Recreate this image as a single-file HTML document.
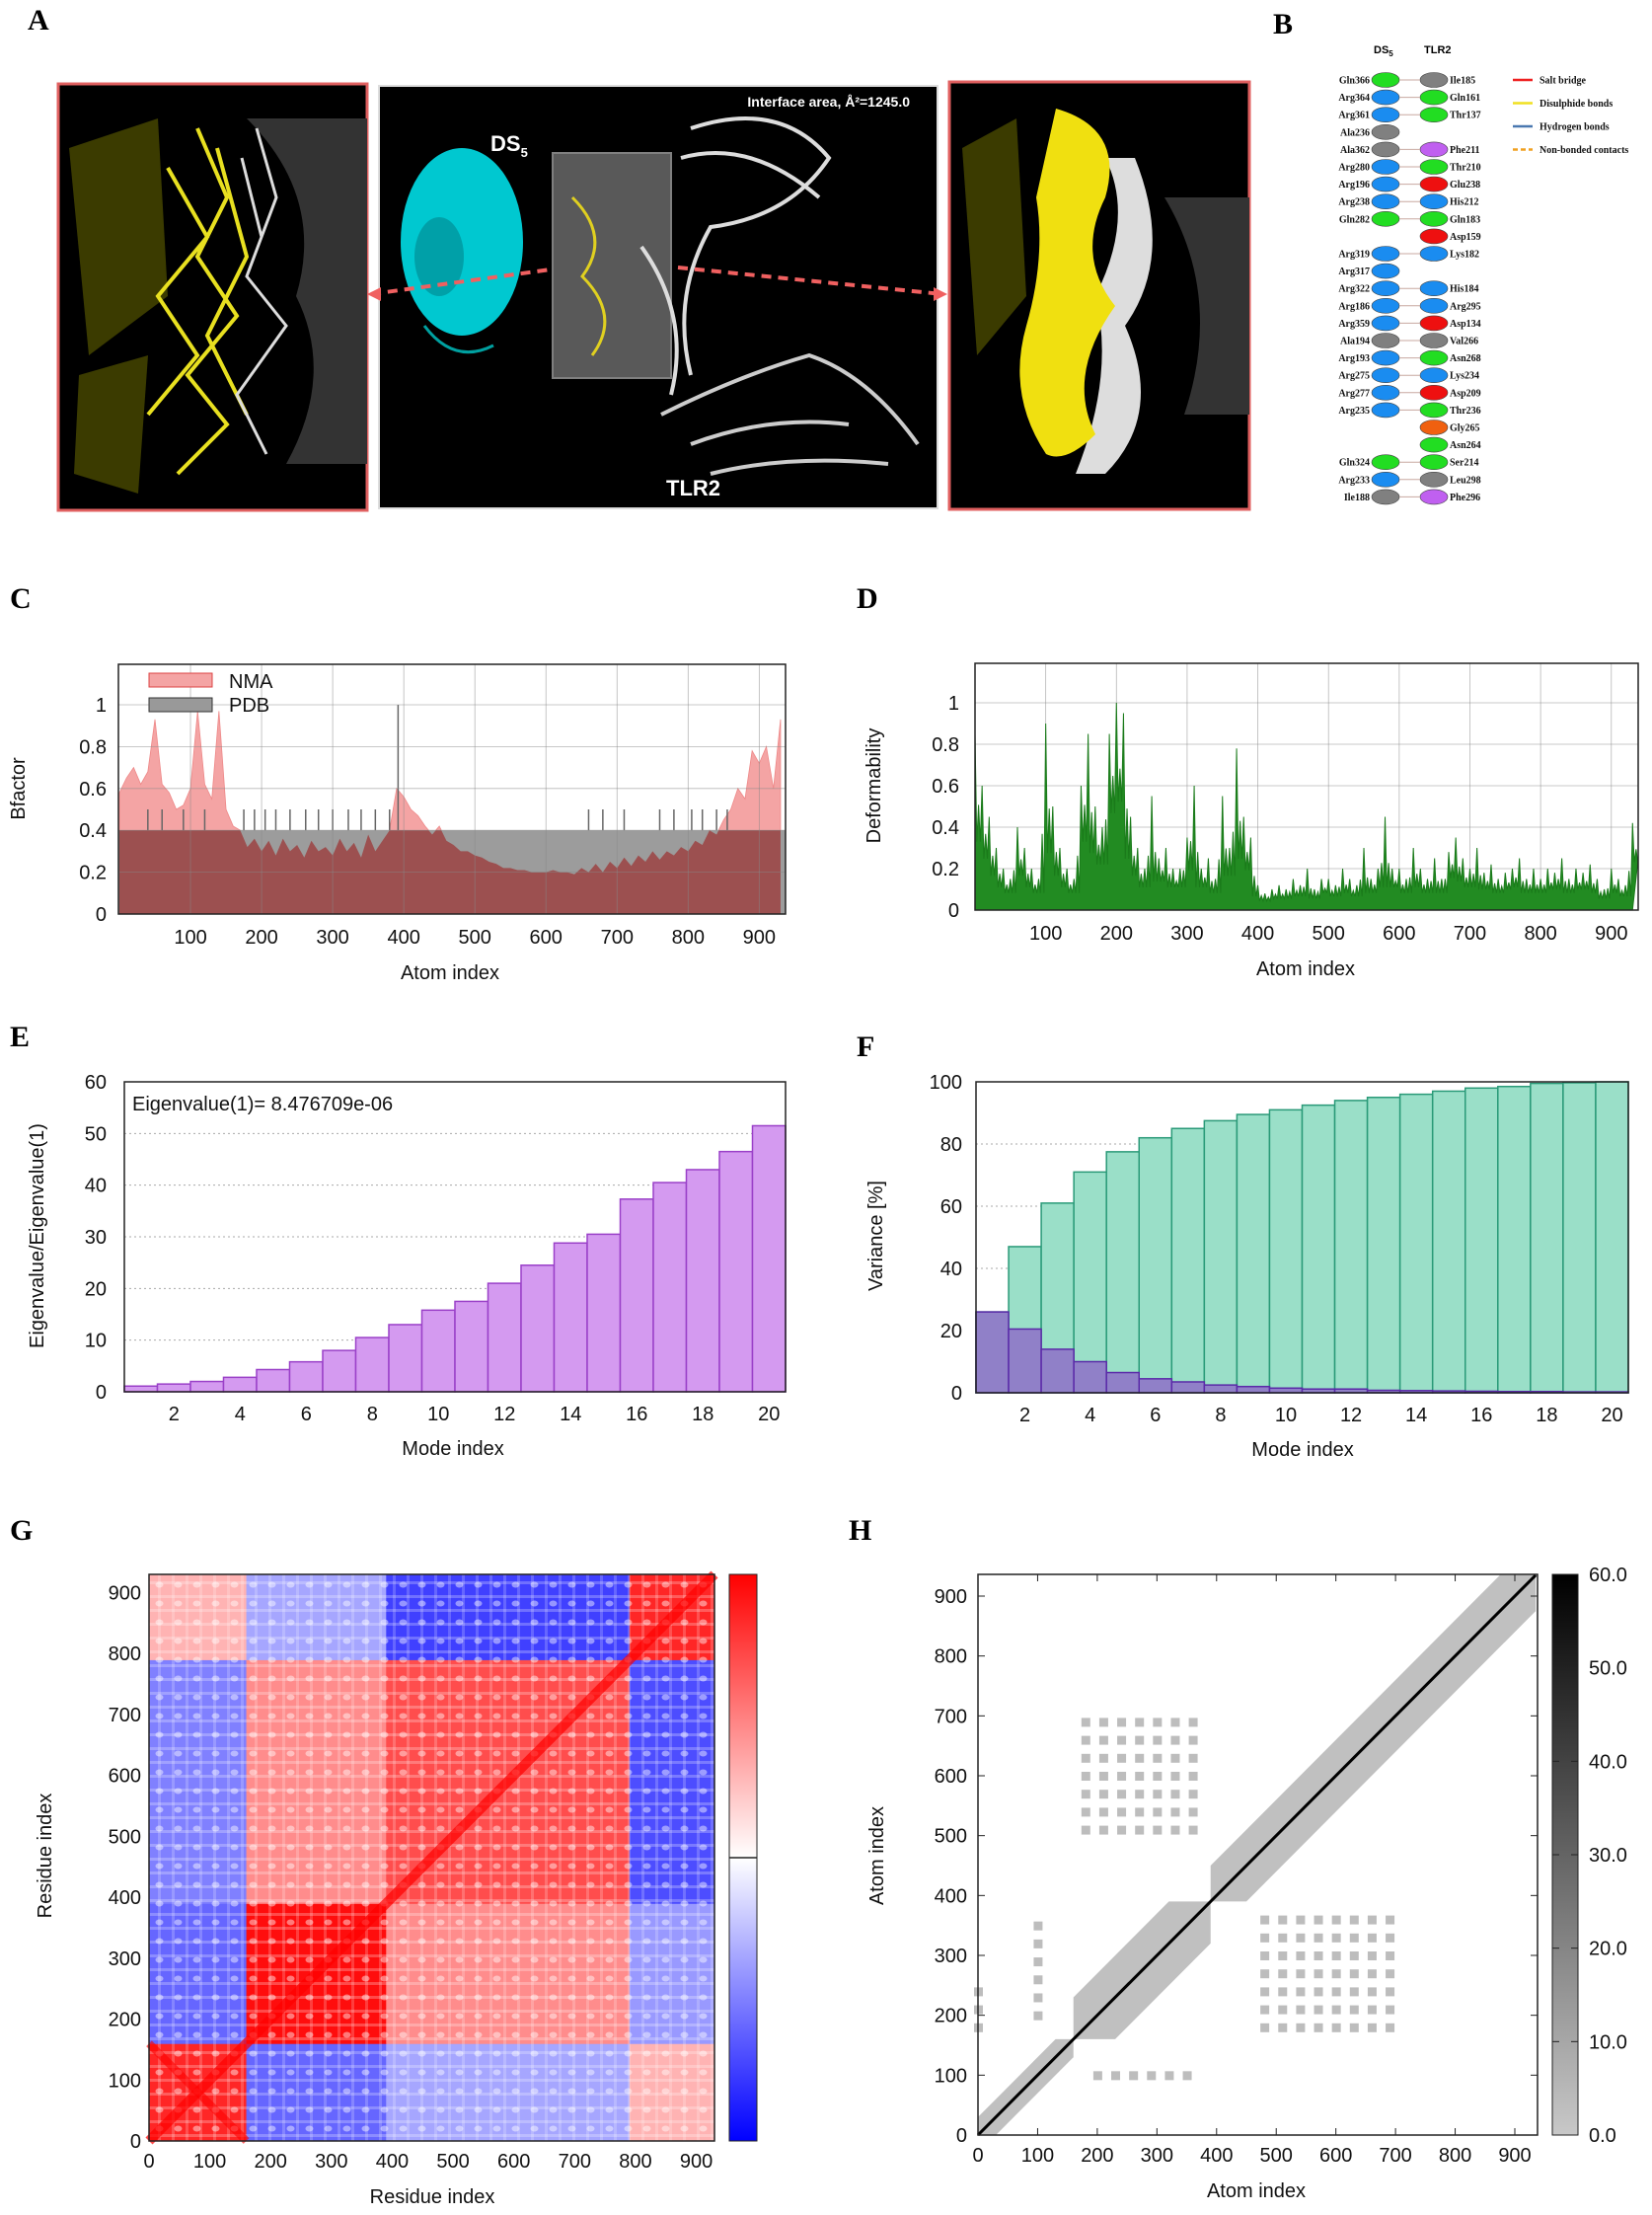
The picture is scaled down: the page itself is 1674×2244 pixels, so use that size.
<!DOCTYPE html>
<html><head><meta charset="utf-8"><style>
html,body{margin:0;padding:0;background:#fff}
svg{display:block}
text{font-family:"Liberation Sans","DejaVu Sans",sans-serif}
.lbl{font-family:"Liberation Serif",serif;font-weight:bold;font-size:30px}
.tk{font-size:20px;fill:#111}
.bl{font-family:"Liberation Serif",serif;font-weight:bold;font-size:10px;fill:#111}
</style></head><body>
<svg id="fig" width="1674" height="2244" viewBox="0 0 1674 2244" xmlns="http://www.w3.org/2000/svg">
<defs>
<clipPath id="clipC"><rect x="120" y="673" width="676" height="253"/></clipPath>
<clipPath id="clipCl"><rect x="120" y="841" width="676" height="85"/></clipPath>
<clipPath id="clipD"><rect x="988" y="672" width="672" height="250"/></clipPath>
<pattern id="dots" width="19" height="19" patternUnits="userSpaceOnUse"><ellipse cx="9.5" cy="9.5" rx="4" ry="3" fill="#fff" opacity="0.45"/></pattern>
<pattern id="stripes" width="14" height="14" patternUnits="userSpaceOnUse"><rect x="0" y="6" width="14" height="3" fill="#fff" opacity="0.25"/><rect x="6" y="0" width="3" height="14" fill="#fff" opacity="0.2"/></pattern>
</defs>

<!-- Panel A -->
<g>
<text class="lbl" x="28" y="30">A</text>
<g>
<rect x="59" y="85" width="313" height="432" fill="#000" stroke="#e06060" stroke-width="3"/>
<path d="M70 150 L160 120 L170 300 L90 360Z M80 380 L150 360 L140 500 L75 480Z" fill="#4a4a00" opacity="0.8"/>
<path d="M250 120 Q330 200 300 300 Q340 380 290 470 L372 470 L372 120Z" fill="#333"/>
<path d="M200 130 L230 200 L200 260 L240 320 L190 380 L230 430 L180 480 M170 170 L210 240 L160 300 L200 360 L150 420 M220 150 L250 260 L210 340 L250 420" stroke="#e8e020" stroke-width="4" fill="none"/>
<path d="M260 130 L280 200 L250 280 L290 330 L240 400 L270 460 M245 160 L265 240" stroke="#ddd" stroke-width="3" fill="none"/>
</g>
<g>
<rect x="384" y="87" width="566" height="428" fill="#000" stroke="#ddd" stroke-width="2"/>
<ellipse cx="468" cy="245" rx="62" ry="95" fill="#00c8d0"/>
<ellipse cx="445" cy="260" rx="25" ry="40" fill="#00a0a8"/>
<path d="M430 330 Q460 370 500 350" stroke="#00a0a0" stroke-width="3" fill="none"/>
<rect x="560" y="155" width="120" height="228" fill="#777" opacity="0.75" stroke="#aaa" stroke-width="2"/>
<path d="M700 130 Q790 100 840 160 Q800 220 720 230 Q680 300 700 380 M690 160 Q760 140 830 200 M650 250 Q700 320 680 400" stroke="#ddd" stroke-width="4" fill="none"/>
<path d="M670 420 Q750 380 820 360 Q880 380 930 450 M700 450 Q780 420 860 430 M720 480 Q800 460 900 470" stroke="#ccc" stroke-width="4" fill="none"/>
<path d="M580 200 Q620 240 590 280 Q630 320 600 360" stroke="#e0d020" stroke-width="3" fill="none"/>
<text x="497" y="153" fill="#fff" font-family="Liberation Serif" font-weight="bold" font-size="22">DS<tspan font-size="13" dy="6">5</tspan></text>
<text x="922" y="108" fill="#fff" font-family="Liberation Serif" font-weight="bold" font-size="14" text-anchor="end">Interface area, Å²=1245.0</text>
<text x="675" y="502" fill="#fff" font-family="Liberation Serif" font-weight="bold" font-size="22">TLR2</text>
<path d="M376 298 L558 273 M687 271 L955 298" stroke="#f06060" stroke-width="4" stroke-dasharray="10 7" fill="none"/>
<path d="M372 298 L386 291 L386 305Z M960 298 L946 291 L946 305Z" fill="#f06060"/>
</g>
<g>
<rect x="962" y="83" width="304" height="433" fill="#000" stroke="#e06060" stroke-width="3"/>
<path d="M975 150 L1030 120 L1040 300 L990 360Z" fill="#4a4a00" opacity="0.8"/>
<path d="M1150 160 Q1190 260 1140 330 Q1180 420 1120 480 L1090 480 Q1130 380 1110 300 Q1150 220 1120 160Z" fill="#ddd"/>
<path d="M1070 110 Q1140 130 1120 200 Q1090 260 1130 310 Q1080 380 1110 440 Q1080 470 1060 460 Q1020 400 1040 330 Q1060 260 1050 200Z" fill="#f0e010"/>
<path d="M1180 200 Q1240 300 1200 420 L1266 420 L1266 200Z" fill="#333"/>
</g>
</g>

<!-- Panel B -->
<g id="panelB">
<text class="lbl" x="1290" y="34">B</text>
<text x="1392" y="54" font-family="Liberation Serif" font-weight="bold" font-size="11">DS<tspan font-size="8" dy="3">5</tspan></text>
<text x="1443" y="54" font-family="Liberation Serif" font-weight="bold" font-size="11">TLR2</text>
</g>

<g id="panelC">
<text class="lbl" x="10" y="616">C</text>
</g>
<g id="panelD">
<text class="lbl" x="868" y="616">D</text>
</g>
<g id="panelE">
<text class="lbl" x="10" y="1060">E</text>
</g>
<g id="panelF">
<text class="lbl" x="868" y="1070">F</text>
</g>
<g id="panelG">
<text class="lbl" x="10" y="1560">G</text>
</g>
<g id="panelH">
<text class="lbl" x="860" y="1560">H</text>
</g>
</svg>
<script>
const bDs = ["Gln366","Arg364","Arg361","Ala236","Ala362","Arg280","Arg196","Arg238","Gln282","","Arg319","Arg317","Arg322","Arg186","Arg359","Ala194","Arg193","Arg275","Arg277","Arg235","","","Gln324","Arg233","Ile188"];
const bDsCol = ["g","b","b","k","k","b","b","b","g","","b","b","b","b","b","k","b","b","b","b","","","g","b","k"];
const bTlr = ["Ile185","Gln161","Thr137","","Phe211","Thr210","Glu238","His212","Gln183","Asp159","Lys182","","His184","Arg295","Asp134","Val266","Asn268","Lys234","Asp209","Thr236","Gly265","Asn264","Ser214","Leu298","Phe296"];
const bTlrCol = ["k","g","g","","p","g","r","b","g","r","b","","b","b","r","k","g","b","r","g","o","g","g","k","p"];
const bLegend = ["Salt bridge","Disulphide bonds","Hydrogen bonds","Non-bonded contacts"];

const nmaValues = [.58,.65,.7,.62,.68,.93,.62,.58,.5,.52, .6,.97,.62,.55,.97,.5,.42,.4,.32,.36, .3,.35,.28,.36,.3,.33,.27,.35,.3,.32, .28,.36,.3,.34,.27,.38,.3,.35,.4,.6, .56,.5,.47,.42,.38,.42,.35,.33,.3,.3, .28,.27,.25,.24,.22,.22,.21,.21,.2,.2, .2,.21,.2,.2,.19,.22,.2,.24,.2,.25, .22,.27,.23,.28,.25,.3,.26,.3,.28,.32, .3,.35,.33,.4,.38,.45,.5,.6,.55,.78, .72,.8,.6,.93];
const pdbBase = 0.4;
const pdbSpikeAtoms = [40,60,90,120,175,190,205,220,240,262,280,300,322,340,360,380,392,660,680,710,760,780,805,820,840,855];
const pdbSpikeValues = [.5,.5,.5,.5,.5,.5,.5,.5,.5,.5,.5,.5,.5,.5,.5,.5,1.0,.5,.5,.5,.5,.5,.5,.5,.5,.5];
const deformValues = [.85,.6,.45,.3,.2,.15,.4,.3,.2,.15, .9,.5,.3,.2,.15,.6,.85,.5,.4,.85, 1.0,.95,.45,.3,.2,.55,.25,.3,.2,.2, .35,.6,.2,.25,.15,.55,.3,.78,.45,.35, .12,.08,.1,.12,.1,.15,.12,.2,.1,.15, .15,.12,.2,.15,.12,.3,.15,.2,.45,.2, .2,.15,.3,.2,.15,.25,.15,.28,.35,.25, .2,.3,.18,.22,.15,.18,.2,.25,.15,.2, .15,.2,.18,.25,.15,.2,.18,.22,.15,.1, .2,.15,.12,.42];
const atomTicks = [100,200,300,400,500,600,700,800,900];
const bfTicks = [0,0.2,0.4,0.6,0.8,1];
const bfTickLabels = ["0","0.2","0.4","0.6","0.8","1"];

const eigenRatio = [1.1,1.5,2,2.8,4.3,5.8,8,10.5,13,15.8,17.5,21,24.5,28.8,30.5,37.3,40.5,43,46.5,51.5];
const eigTicks = [0,10,20,30,40,50,60];
const modeTicks = [2,4,6,8,10,12,14,16,18,20];
const varCumulative = [26,47,61,71,77.5,82,85,87.5,89.5,91,92.5,94,95,96,97,98,98.5,99.5,99.7,100];
const varIndividual = [26,20.5,14,10,6.5,4.5,3.5,2.5,2,1.5,1.2,1.2,0.8,0.7,0.6,0.5,0.4,0.4,0.3,0.3];
const varTicks = [0,20,40,60,80,100];

const corrBounds = [0,160,390,790,930];
const corrRow0 = [0.85,-0.6,-0.35,0.3];
const corrRow1 = [-0.6,0.95,0.45,-0.4];
const corrRow2 = [-0.5,0.45,0.7,-0.7];
const corrRow3 = [0.3,-0.35,-0.75,0.85];
const resTicks = [0,100,200,300,400,500,600,700,800,900];

const bandStart = [0,160,390];
const bandEnd = [160,390,935];
const bandHalf = [30,70,60];
const clusterX0 = [180,480,100,200,0];
const clusterX1 = [370,690,110,350,20];
const clusterY0 = [510,180,200,100,180];
const clusterY1 = [690,380,350,100,260];
const contactTicks = [0,100,200,300,400,500,600,700,800,900];
const cbarLabels = ["0.0","10.0","20.0","30.0","40.0","50.0","60.0"];

const NS = "http://www.w3.org/2000/svg";
function mk(parent, tag, attrs, txt){
  const e = document.createElementNS(NS, tag);
  for (const k in attrs) e.setAttribute(k, attrs[k]);
  if (txt !== undefined) e.textContent = txt;
  parent.appendChild(e);
  return e;
}
function lin(d0,d1,r0,r1){ return v => r0 + (v-d0)/(d1-d0)*(r1-r0); }

(function(){
  const g = document.getElementById('panelB');
  const cols = {g:"#22dd22",b:"#1a8cf0",k:"#808080",p:"#c060f0",r:"#ee1010",o:"#f06010"};
  const y0 = 81, dy = 17.6;
  bDs.forEach((n,i)=>{
    const y = y0 + i*dy;
    if (n){
      const c = mk(g,'ellipse',{cx:1404,cy:y,rx:14,ry:7.5,fill:cols[bDsCol[i]],stroke:"#444","stroke-width":0.6});
      
      
      mk(g,'text',{x:1388,y:y+3.5,class:'bl','text-anchor':'end'},n);
    }
    if (bTlr[i]){
      const c = mk(g,'ellipse',{cx:1453,cy:y,rx:14,ry:7.5,fill:cols[bTlrCol[i]],stroke:"#444","stroke-width":0.6});
      
      
      mk(g,'text',{x:1469,y:y+3.5,class:'bl'},bTlr[i]);
    }
    if (n && bTlr[i]) mk(g,'line',{x1:1418,y1:y,x2:1439,y2:y,stroke:"#c8a8a0","stroke-width":1});
  });
  const lc = ["#ee2020","#f0e020","#4a78b0","#f0a020"];
  bLegend.forEach((t,i)=>{
    const y = 81 + i*23.5;
    mk(g,'line',{x1:1533,y1:y,x2:1553,y2:y,stroke:lc[i],"stroke-width":2.5,"stroke-dasharray":i==3?"5 3":"none"});
    const tx = mk(g,'text',{x:1560,y:y+3.5,class:'bl','font-weight':'normal'},t);
    
    
  });
})();

function frame(g, L,T,R,B){
  const r = mk(g,'rect',{x:L,y:T,width:R-L,height:B-T,fill:"none",stroke:"#222","stroke-width":1.5});
  
  
}

(function(){
  const g = document.getElementById('panelC');
  const L=120,R=796,T=673,B=926;
  const x = lin(0,937,121,796), y = lin(0,1,926,714);
  mk(g,'rect',{x:L,y:T,width:R-L,height:B-T,fill:"#fff"});
  let pts = `${x(0)},${y(0)} `;
  nmaValues.forEach((v,i)=>{ pts += `${x(i*10)},${y(v)} `; });
  pts += `${x((nmaValues.length-1)*10)},${y(0)}`;
  const nma = mk(g,'polygon',{points:pts,fill:"#f4a4a4",stroke:"#e88","stroke-width":0.8,"clip-path":"url(#clipC)"});
  
  
  const pdb = mk(g,'rect',{x:x(0)-1,y:y(pdbBase),width:R-L,height:y(0)-y(pdbBase),fill:"#9c9c9c"});
  
  
  pdbSpikeAtoms.forEach((a,i)=>{
    const s = mk(g,'line',{x1:x(a),x2:x(a),y1:y(pdbBase),y2:y(pdbSpikeValues[i]),stroke:"#666","stroke-width":1.5});
    
    
  });
  const ov = mk(g,'polygon',{points:pts,fill:"#9c5050","clip-path":"url(#clipCl)"});
  
  
  atomTicks.forEach(t=>{
    mk(g,'line',{x1:x(t),x2:x(t),y1:T,y2:B,stroke:"#888","stroke-width":0.8,opacity:0.6});
    mk(g,'text',{x:x(t),y:956,class:'tk','text-anchor':'middle'},t);
  });
  bfTicks.forEach((t,i)=>{
    mk(g,'line',{x1:L,x2:R,y1:y(t),y2:y(t),stroke:"#888","stroke-width":0.8,opacity:0.6});
    mk(g,'text',{x:108,y:y(t)+7,class:'tk','text-anchor':'end'},bfTickLabels[i]);
  });
  frame(g,L,T,R,B);
  mk(g,'rect',{x:151,y:682,width:64,height:14,fill:"#f4a4a4",stroke:"#d44","stroke-width":1});
  mk(g,'text',{x:232,y:697,class:'tk'},"NMA");
  mk(g,'rect',{x:151,y:707,width:64,height:14,fill:"#999",stroke:"#333","stroke-width":1});
  mk(g,'text',{x:232,y:721,class:'tk'},"PDB");
  mk(g,'text',{x:456,y:992,class:'tk','text-anchor':'middle'},"Atom index");
  mk(g,'text',{x:0,y:0,class:'tk','text-anchor':'middle',transform:"translate(25,799) rotate(-90)"},"Bfactor");
})();

(function(){
  const g = document.getElementById('panelD');
  const L=988,R=1660,T=672,B=922;
  const x = lin(0,938,988,1660), y = lin(0,1,922,712);
  atomTicks.forEach(t=>{
    mk(g,'line',{x1:x(t),x2:x(t),y1:T,y2:B,stroke:"#888","stroke-width":0.8,opacity:0.6});
    mk(g,'text',{x:x(t),y:952,class:'tk','text-anchor':'middle'},t);
  });
  bfTicks.forEach((t,i)=>{
    mk(g,'line',{x1:L,x2:R,y1:y(t),y2:y(t),stroke:"#888","stroke-width":0.8,opacity:0.6});
    mk(g,'text',{x:972,y:y(t)+7,class:'tk','text-anchor':'end'},bfTickLabels[i]);
  });
  let pts = `${x(0)},${y(0)} `;
  deformValues.forEach((v,i)=>{
    const a = i*10;
    const nx = deformValues[i+1]!==undefined?deformValues[i+1]:v;
    const lo = Math.min(v, nx)*0.55;
    pts += `${x(a)},${y(v)} ${x(a+2.5)},${y(lo)} ${x(a+5)},${y((v+nx)*0.35)} ${x(a+7.5)},${y(lo)} `;
  });
  pts += `${x((deformValues.length-1)*10)},${y(0)}`;
  const p = mk(g,'polygon',{points:pts,fill:"#228b22",stroke:"#1a7a1a","stroke-width":1,"clip-path":"url(#clipD)"});
  
  
  frame(g,L,T,R,B);
  mk(g,'text',{x:1323,y:988,class:'tk','text-anchor':'middle'},"Atom index");
  mk(g,'text',{x:0,y:0,class:'tk','text-anchor':'middle',transform:"translate(892,796) rotate(-90)"},"Deformability");
})();

(function(){
  const g = document.getElementById('panelE');
  const L=126,R=796,T=1096,B=1410;
  const bw = (R-L)/eigenRatio.length;
  const y = lin(0,60,B,T);
  eigTicks.forEach(t=>{
    if (t>0 && t<60) mk(g,'line',{x1:L,x2:R,y1:y(t),y2:y(t),stroke:"#aaa","stroke-width":1,"stroke-dasharray":"2 3"});
    mk(g,'text',{x:108,y:y(t)+7,class:'tk','text-anchor':'end'},t);
  });
  eigenRatio.forEach((v,i)=>{
    const r = mk(g,'rect',{x:L+i*bw,y:y(v),width:bw,height:B-y(v),fill:"#d49af0",stroke:"#9a40c8","stroke-width":1.5});
    
    
  });
  modeTicks.forEach(m=>{
    mk(g,'text',{x:L+(m-0.5)*bw,y:1439,class:'tk','text-anchor':'middle'},m);
  });
  frame(g,L,T,R,B);
  mk(g,'text',{x:134,y:1125,class:'tk'},"Eigenvalue(1)= 8.476709e-06");
  mk(g,'text',{x:459,y:1474,class:'tk','text-anchor':'middle'},"Mode index");
  mk(g,'text',{x:0,y:0,class:'tk','text-anchor':'middle',transform:"translate(44,1252) rotate(-90)"},"Eigenvalue/Eigenvalue(1)");
})();

(function(){
  const g = document.getElementById('panelF');
  const L=989,R=1650,T=1096,B=1411;
  const bw = (R-L)/varCumulative.length;
  const y = lin(0,100,B,T);
  varTicks.forEach(t=>{
    if (t>0 && t<100) mk(g,'line',{x1:L,x2:R,y1:y(t),y2:y(t),stroke:"#aaa","stroke-width":1,"stroke-dasharray":"2 3"});
    mk(g,'text',{x:975,y:y(t)+7,class:'tk','text-anchor':'end'},t);
  });
  varCumulative.forEach((v,i)=>{
    const r = mk(g,'rect',{x:L+i*bw,y:y(v),width:bw,height:B-y(v),fill:"#9adfc8",stroke:"#2a9a78","stroke-width":1.5});
    
    
  });
  varIndividual.forEach((v,i)=>{
    const r = mk(g,'rect',{x:L+i*bw,y:y(v),width:bw,height:B-y(v),fill:"#9080c8",stroke:"#5a2aa8","stroke-width":1.5});
    
    
  });
  modeTicks.forEach(m=>{
    mk(g,'text',{x:L+(m-0.5)*bw,y:1440,class:'tk','text-anchor':'middle'},m);
  });
  frame(g,L,T,R,B);
  mk(g,'text',{x:1320,y:1475,class:'tk','text-anchor':'middle'},"Mode index");
  mk(g,'text',{x:0,y:0,class:'tk','text-anchor':'middle',transform:"translate(894,1252) rotate(-90)"},"Variance [%]");
})();

(function(){
  const g = document.getElementById('panelG');
  const L=151,R=724,T=1595,B=2169;
  const x = lin(0,930,L,R), y = lin(0,930,B,T);
  function col(v){
    if (v>=0){ const c=Math.round(255*(1-v)); return `rgb(255,${c},${c})`; }
    const c=Math.round(255*(1+v)); return `rgb(${c},${c},255)`;
  }
  const rows = [corrRow0,corrRow1,corrRow2,corrRow3];
  rows.forEach((row,ri)=>{
    row.forEach((v,ci)=>{
      const x0=x(corrBounds[ci]), x1=x(corrBounds[ci+1]);
      const y0=y(corrBounds[ri+1]), y1=y(corrBounds[ri]);
      const c = mk(g,'rect',{x:x0,y:y0,width:x1-x0+0.5,height:y1-y0+0.5,fill:col(v)});
      
      
    });
  });
  mk(g,'rect',{x:L,y:T,width:R-L,height:B-T,fill:"url(#stripes)"});
  mk(g,'rect',{x:L,y:T,width:R-L,height:B-T,fill:"url(#dots)"});
  mk(g,'line',{x1:x(0),y1:y(0),x2:x(930),y2:y(930),stroke:"#ff0000","stroke-width":10,opacity:0.7});
  mk(g,'line',{x1:x(0),y1:y(160),x2:x(160),y2:y(0),stroke:"#ff0000","stroke-width":8,opacity:0.6});
  frame(g,L,T,R,B);
  resTicks.forEach(t=>{
    mk(g,'text',{x:x(t),y:2196,class:'tk','text-anchor':'middle'},t);
    mk(g,'text',{x:143,y:y(t)+7,class:'tk','text-anchor':'end'},t);
  });
  const gr = mk(g,'linearGradient',{id:'rwb',x1:0,y1:1,x2:0,y2:0});
  mk(gr,'stop',{offset:'0',"stop-color":"#0000ff"});
  mk(gr,'stop',{offset:'0.5',"stop-color":"#ffffff"});
  mk(gr,'stop',{offset:'1',"stop-color":"#ff0000"});
  const cb = mk(g,'rect',{x:739,y:T,width:28,height:B-T,fill:"url(#rwb)",stroke:"#222","stroke-width":1});
  
  
  mk(g,'line',{x1:739,x2:767,y1:(T+B)/2,y2:(T+B)/2,stroke:"#222","stroke-width":1.5});
  mk(g,'text',{x:438,y:2232,class:'tk','text-anchor':'middle'},"Residue index");
  mk(g,'text',{x:0,y:0,class:'tk','text-anchor':'middle',transform:"translate(52,1880) rotate(-90)"},"Residue index");
})();

(function(){
  const g = document.getElementById('panelH');
  const L=991,R=1558,T=1595,B=2163;
  const x = lin(0,900,991,1535), y = lin(0,900,2163,1617);
  bandStart.forEach((s,i)=>{
    const e=bandEnd[i], h=bandHalf[i];
    const p = `${x(s)},${y(s+h)} ${x(e-h)},${y(e)} ${x(e)},${y(e)} ${x(e)},${y(e-h)} ${x(s+h)},${y(s)} ${x(s)},${y(s)}`;
    const b = mk(g,'polygon',{points:p,fill:"#c0c0c0"});
    
    
  });
  clusterX0.forEach((x0,i)=>{
    for (let a=x0; a<=clusterX1[i]; a+=30){
      for (let b=clusterY0[i]; b<=clusterY1[i]; b+=30){
        const d = mk(g,'rect',{x:x(a)-4,y:y(b)-4,width:9,height:9,fill:"#bdbdbd"});
        
        
      }
    }
  });
  mk(g,'line',{x1:x(0),y1:y(0),x2:x(935),y2:y(935),stroke:"#000","stroke-width":3});
  frame(g,L,T,R,B);
  contactTicks.forEach(t=>{
    mk(g,'line',{x1:x(t),x2:x(t),y1:B,y2:B-7,stroke:"#222"});
    mk(g,'line',{x1:x(t),x2:x(t),y1:T,y2:T+7,stroke:"#222"});
    mk(g,'line',{x1:L,x2:L+7,y1:y(t),y2:y(t),stroke:"#222"});
    mk(g,'line',{x1:R,x2:R-7,y1:y(t),y2:y(t),stroke:"#222"});
    mk(g,'text',{x:x(t),y:2190,class:'tk','text-anchor':'middle'},t);
    mk(g,'text',{x:980,y:y(t)+7,class:'tk','text-anchor':'end'},t);
  });
  const gr = mk(g,'linearGradient',{id:'gray',x1:0,y1:1,x2:0,y2:0});
  mk(gr,'stop',{offset:'0',"stop-color":"#c8c8c8"});
  mk(gr,'stop',{offset:'1',"stop-color":"#000"});
  const cb = mk(g,'rect',{x:1573,y:T,width:26,height:B-T,fill:"url(#gray)",stroke:"#222","stroke-width":1});
  
  
  cbarLabels.forEach((t,i)=>{
    const yy = B - i*(B-T)/6;
    mk(g,'text',{x:1610,y:yy+7,class:'tk'},t);
    mk(g,'line',{x1:1573,x2:1580,y1:yy,y2:yy,stroke:"#222"});
    mk(g,'line',{x1:1592,x2:1599,y1:yy,y2:yy,stroke:"#222"});
  });
  mk(g,'text',{x:1273,y:2226,class:'tk','text-anchor':'middle'},"Atom index");
  mk(g,'text',{x:0,y:0,class:'tk','text-anchor':'middle',transform:"translate(895,1880) rotate(-90)"},"Atom index");
})();
</script>
</body></html>
